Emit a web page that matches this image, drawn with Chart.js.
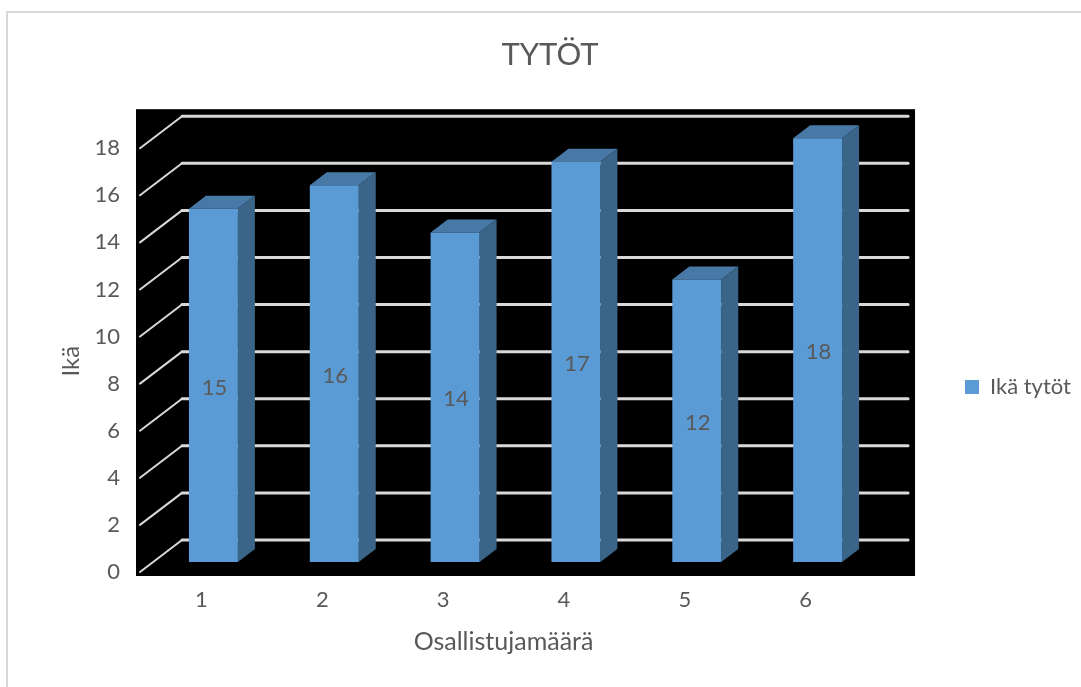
<!DOCTYPE html>
<html>
<head>
<meta charset="utf-8">
<script src="https://cdn.jsdelivr.net/npm/chart.js@4"></script>
<style>
  html, body { margin: 0; padding: 0; background: #fff; overflow: hidden; }
  #frame { position: absolute; left: 6px; top: 11px; width: 1075px; height: 676px; border-left: 2px solid #d9d9d9; border-top: 2px solid #d9d9d9; box-sizing: border-box; }
  canvas { position: absolute; left: 0; top: 0; }
</style>
</head>
<body>
<div id="frame"></div>
<canvas id="chart" width="1081" height="687"></canvas>
<script>
// -------- Data --------
const categories = ['1', '2', '3', '4', '5', '6'];
const ages = [15, 16, 14, 17, 12, 18];
const seriesName = 'Ikä tytöt';
const chartTitle = 'TYTÖT';
const xTitle = 'Osallistujamäärä';
const yTitle = 'Ikä';

// -------- Style --------
const FONT = 'Lato, "Open Sans", sans-serif';
const TEXT = '#595959';
const FRONT = '#5b9bd5';
const SIDE = '#3b6588';
const TOP = '#4878a5';
const GRID = '#d9d9d9';
const DEPTH_X = 17;
const DEPTH_Y = 13;

// black wall, gridlines and the 3d faces of the bars
const wall3d = {
  id: 'wall3d',
  afterLayout(chart) {
    // nudge titles and legend to where the original had them
    const { x, y } = chart.scales;
    x.left -= 12; x.right -= 12;
    x.bottom = 657;
    y.top += 11; y.bottom += 11;
    y.left = 57;
    const t = chart.titleBlock;
    t.left = 0; t.right = 1100;
    const lg = chart.legend;
    const dx = 955 - lg.left, dy = 387 - (lg.top + lg.bottom) / 2;
    lg.left += dx; lg.right += dx; lg.top += dy; lg.bottom += dy;
  },
  beforeDatasetsDraw(chart) {
    const { ctx, chartArea: a, scales: { y } } = chart;
    ctx.save();
    ctx.fillStyle = '#000';
    ctx.fillRect(a.left - 17, a.top - 29, a.right - a.left + 54, a.bottom - a.top + 43);

    ctx.strokeStyle = GRID;
    ctx.lineCap = 'round';
    y.ticks.forEach(t => {
      const yb = y.getPixelForValue(t.value) - 22;
      ctx.lineWidth = 2;
      ctx.beginPath();
      ctx.moveTo(a.left - 13, yb + 32);
      ctx.lineTo(a.left + 29, yb);
      ctx.stroke();
      ctx.lineWidth = 3;
      ctx.beginPath();
      ctx.moveTo(a.left + 29, yb);
      ctx.lineTo(a.right + 30, yb);
      ctx.stroke();
    });

    chart.getDatasetMeta(0).data.forEach(bar => {
      const l = bar.x - bar.width / 2, r = bar.x + bar.width / 2;
      ctx.fillStyle = TOP;
      ctx.beginPath();
      ctx.moveTo(l, bar.y);
      ctx.lineTo(l + DEPTH_X, bar.y - DEPTH_Y);
      ctx.lineTo(r + DEPTH_X, bar.y - DEPTH_Y);
      ctx.lineTo(r, bar.y);
      ctx.closePath();
      ctx.fill();
      ctx.fillStyle = SIDE;
      ctx.beginPath();
      ctx.moveTo(r, bar.y);
      ctx.lineTo(r + DEPTH_X, bar.y - DEPTH_Y);
      ctx.lineTo(r + DEPTH_X, bar.base - DEPTH_Y);
      ctx.lineTo(r, bar.base);
      ctx.closePath();
      ctx.fill();
    });
    ctx.restore();
  },
  afterDatasetsDraw(chart) {
    const { ctx } = chart;
    ctx.save();
    ctx.fillStyle = TEXT;
    ctx.font = '22px ' + FONT;
    ctx.textAlign = 'center';
    ctx.textBaseline = 'middle';
    chart.getDatasetMeta(0).data.forEach((bar, i) => {
      ctx.fillText(String(ages[i]), bar.x + 1, (bar.y + bar.base) / 2 + 2);
    });
    ctx.restore();
  }
};

new Chart(document.getElementById('chart'), {
  type: 'bar',
  data: {
    labels: categories,
    datasets: [{
      label: seriesName,
      data: ages,
      backgroundColor: FRONT,
      borderWidth: 0,
      clip: false,
      barPercentage: 0.81,
      categoryPercentage: 0.5
    }]
  },
  options: {
    responsive: false,
    animation: false,
    layout: { padding: { right: 77 } },
    plugins: {
      tooltip: { enabled: false },
      title: {
        display: true,
        text: chartTitle,
        color: TEXT,
        font: { family: FONT, size: 31, weight: 'normal' },
        padding: { top: 36, bottom: 65 }
      },
      legend: {
        position: 'right',
        labels: {
          boxWidth: 14,
          boxHeight: 14,
          color: TEXT,
          font: { family: FONT, size: 22 }
        }
      }
    },
    scales: {
      x: {
        grid: { display: false },
        border: { display: false },
        ticks: { color: TEXT, padding: 17, labelOffset: -12, maxRotation: 0, font: { family: FONT, size: 22 } },
        title: { display: true, text: xTitle, color: TEXT, padding: 0, font: { family: FONT, size: 25 } },
        afterFit(s) { s.height = 125; }
      },
      y: {
        min: 0,
        max: 18,
        grid: { display: false },
        border: { display: false },
        ticks: { stepSize: 2, color: TEXT, padding: 25, labelOffset: 10, font: { family: FONT, size: 22 } },
        title: { display: true, text: yTitle, color: TEXT, padding: 0, font: { family: FONT, size: 24 } },
        afterFit(s) { s.width = 153; }
      }
    }
  },
  plugins: [wall3d]
});
</script>
</body>
</html>
